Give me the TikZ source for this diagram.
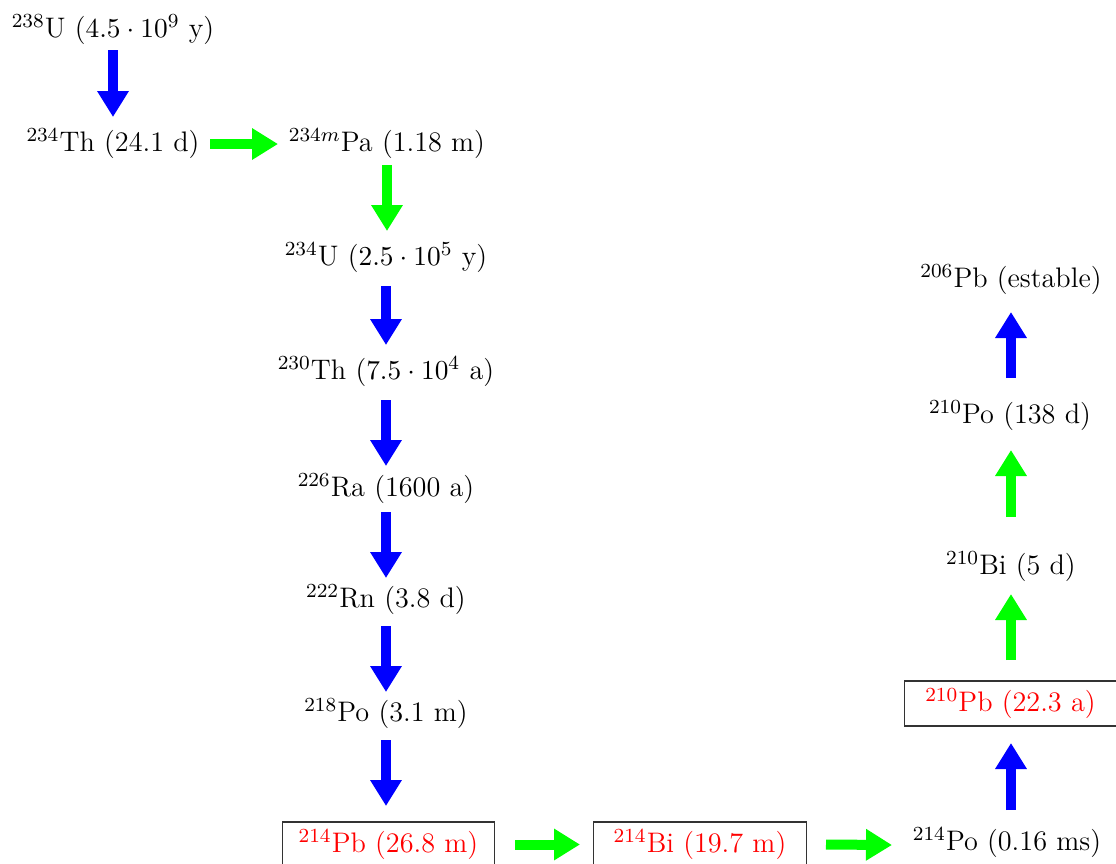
\documentclass[tikz,border=0pt]{standalone}
\usetikzlibrary{arrows.meta,calc}
\definecolor{pureblue}{RGB}{0,0,255}
\definecolor{puregreen}{RGB}{0,255,0}
\begin{document}
\begin{tikzpicture}[x=0.4pt,y=-0.4pt,
  every node/.style={font=\fontsize{11.3}{13.6}\selectfont},
  lbl/.style={inner sep=0pt},
  redbox/.style={draw=black!80,line width=0.5pt,text=red,inner sep=0pt,minimum width=85pt,minimum height=18pt},
  barrow/.style={line width=4pt,-{Triangle[width=12pt,length=10.4pt]}},
  bluearr/.style={barrow,draw=pureblue},
  greenarr/.style={barrow,draw=puregreen}]
\useasboundingbox (0,0) rectangle (1116,863);
\node[lbl] (u238) at (113,30) {$^{238}$U ($4.5\cdot10^{9}$ y)};
\node[lbl] (th234) at (113,144) {$^{234}$Th (24.1 d)};
\node[lbl] (pa234) at (387,144) {$^{234m}$Pa (1.18 m)};
\node[lbl] (u234) at (386,258) {$^{234}$U ($2.5\cdot10^{5}$ y)};
\node[lbl] (th230) at (386,372) {$^{230}$Th ($7.5\cdot10^{4}$ a)};
\node[lbl] (ra226) at (386,489) {$^{226}$Ra (1600 a)};
\node[lbl] (rn222) at (386,600) {$^{222}$Rn (3.8 d)};
\node[lbl] (po218) at (386,714) {$^{218}$Po (3.1 m)};
\node[redbox] (pb214) at (388.5,844.5) {$^{214}$Pb (26.8 m)};
\node[redbox] (bi214) at (700,844.5) {$^{214}$Bi (19.7 m)};
\node[lbl] (po214) at (1007,843) {$^{214}$Po (0.16 ms)};
\node[redbox] (pb210) at (1010.5,703.5) {$^{210}$Pb (22.3 a)};
\node[lbl] (bi210) at (1011,567) {$^{210}$Bi (5 d)};
\node[lbl] (po210) at (1010,416) {$^{210}$Po (138 d)};
\node[lbl] (pb206) at (1011,280) {$^{206}$Pb (estable)};
% vertical down arrows
\draw[bluearr] ($(u238)+(0,20)$) -- ($(u238|-th234)+(0,-27)$);
\draw[greenarr] ($(th234)+(97,0)$) -- ($(pa234)+(-109,0)$);
\draw[greenarr] ($(pa234)+(0,21)$) -- ($(pa234|-u234)+(0,-27)$);
\draw[bluearr] ($(u234)+(0,28)$) -- ($(u234|-th230)+(0,-27)$);
\draw[bluearr] ($(th230)+(0,28)$) -- ($(th230|-ra226)+(0,-23)$);
\draw[bluearr] ($(ra226)+(0,23)$) -- ($(ra226|-rn222)+(0,-22)$);
\draw[bluearr] ($(rn222)+(0,26)$) -- ($(rn222|-po218)+(0,-22)$);
\draw[bluearr] ($(po218)+(0,26)$) -- ($(po218|-pb214)+(0,-38.5)$);
% bottom row
\draw[greenarr] ($(pb214)+(126.5,0)$) -- ($(bi214)+(-120,0)$);
\draw[greenarr] ($(bi214)+(126,0)$) -- ($(po214)+(-115,2)$);
% right column up
\draw[bluearr] ($(po214)+(4,-33)$) -- ($(po214|-pb210)+(4,39.5)$);
\draw[greenarr] ($(pb210)+(0.5,-43.5)$) -- ($(pb210|-bi210)+(0.5,27)$);
\draw[greenarr] ($(bi210)+(0,-50)$) -- ($(bi210|-po210)+(0,34)$);
\draw[bluearr] ($(po210)+(1,-38)$) -- ($(po210|-pb206)+(1,32)$);
\end{tikzpicture}
\end{document}
